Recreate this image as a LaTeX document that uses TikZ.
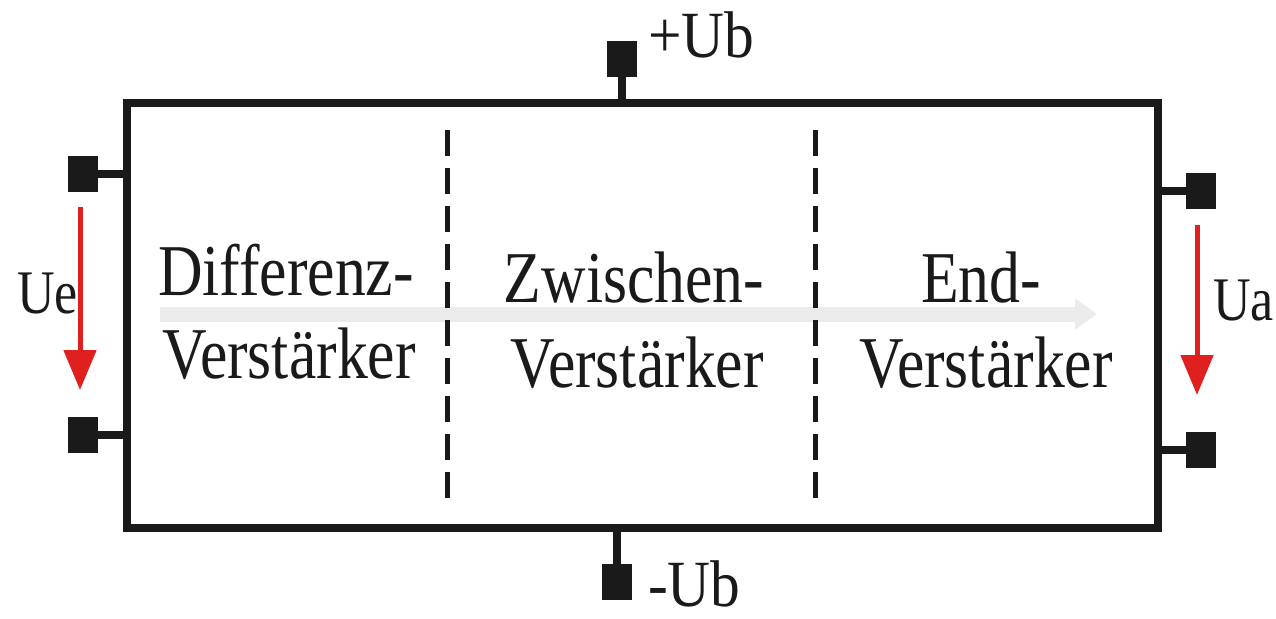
\documentclass[tikz,border=0pt]{standalone}
\usepackage{fontspec}
\setmainfont{Liberation Serif}
\usetikzlibrary{arrows.meta}
\definecolor{ink}{HTML}{1A1A1A}
\definecolor{vred}{HTML}{E0201E}
\begin{document}
\begin{tikzpicture}[x=1pt,y=-1pt,
  frame/.style={draw=ink,line width=8pt},
  term/.style={fill=ink,draw=none,minimum width=30pt,minimum height=36pt,inner sep=0pt},
  stub/.style={draw=ink,line width=8pt},
  sep/.style={draw=ink,line width=5pt,dash pattern=on 26pt off 12pt},
  blocktext/.style={text=ink,inner sep=0pt,text depth=0pt,font=\fontsize{73}{84}\selectfont,xscale=0.845},
  lbl/.style={text=ink,inner sep=0pt,text depth=0pt,font=\fontsize{62}{70}\selectfont,xscale=0.84},
  ublbl/.style={text=ink,inner sep=0pt,text depth=0pt,font=\fontsize{66}{70}\selectfont,xscale=0.9},
  volt/.style={draw=vred,line width=5pt,-{Triangle[width=32pt,length=40pt]}},
  flow/.style={draw=black!8,line width=15pt,-{Triangle[width=30pt,length=22pt]}}
]
\useasboundingbox (0,0) rectangle (1276,618);
% gray signal-flow arrow
\coordinate (fs) at (160,314);
\coordinate (fe) at (1097,314);
\draw[flow] (fs) -- (fe);
% main frame
\node[frame,minimum width=1031pt,minimum height=425pt,inner sep=0pt] (box) at (642.5,315.5) {};
% dashed separators
\coordinate (d1t) at (447,130); \coordinate (d1b) at (447,508);
\coordinate (d2t) at (815,130); \coordinate (d2b) at (815,508);
\draw[sep] (d1t) -- (d1b);
\draw[sep] (d2t) -- (d2b);
% text blocks (one line per node)
\node[blocktext,anchor=base] (b1a) at (286,295) {Differenz-};
\node[blocktext,anchor=base] (b1b) at (289,378) {Verstärker};
\node[blocktext,anchor=base] (b2a) at (634,302) {Zwischen-};
\node[blocktext,anchor=base] (b2b) at (637,387) {Verstärker};
\node[blocktext,anchor=base] (b3a) at (981,302) {End-};
\node[blocktext,anchor=base] (b3b) at (986,387) {Verstärker};
% terminals
\node[term] (tin1) at (83,174) {};
\node[term] (tin2) at (83,435) {};
\node[term] (tout1) at (1201,191) {};
\node[term] (tout2) at (1201,450) {};
\node[term] (tp) at (622,59) {};
\node[term] (tn) at (617,582) {};
\draw[stub] (tin1.center) -- (tin1.center -| box.west);
\draw[stub] (tin2.center) -- (tin2.center -| box.west);
\draw[stub] (tout1.center) -- (tout1.center -| box.east);
\draw[stub] (tout2.center) -- (tout2.center -| box.east);
\draw[stub] (tp.center) -- (tp.center |- box.north);
\draw[stub] (tn.center) -- (tn.center |- box.south);
% voltage arrows
\coordinate (ue1) at (80,207); \coordinate (ue2) at (80,390);
\coordinate (ua1) at (1197,225); \coordinate (ua2) at (1197,395);
\draw[volt] (ue1) -- (ue2);
\draw[volt] (ua1) -- (ua2);
% labels
\node[lbl,anchor=base west] (lue) at (17,313) {Ue};
\node[lbl,anchor=base west] (lua) at (1213,320) {Ua};
\node[ublbl,anchor=base west] (lp) at (648,57) {+Ub};
\node[ublbl,anchor=base west] (ln) at (648,606) {-Ub};
\end{tikzpicture}
\end{document}
